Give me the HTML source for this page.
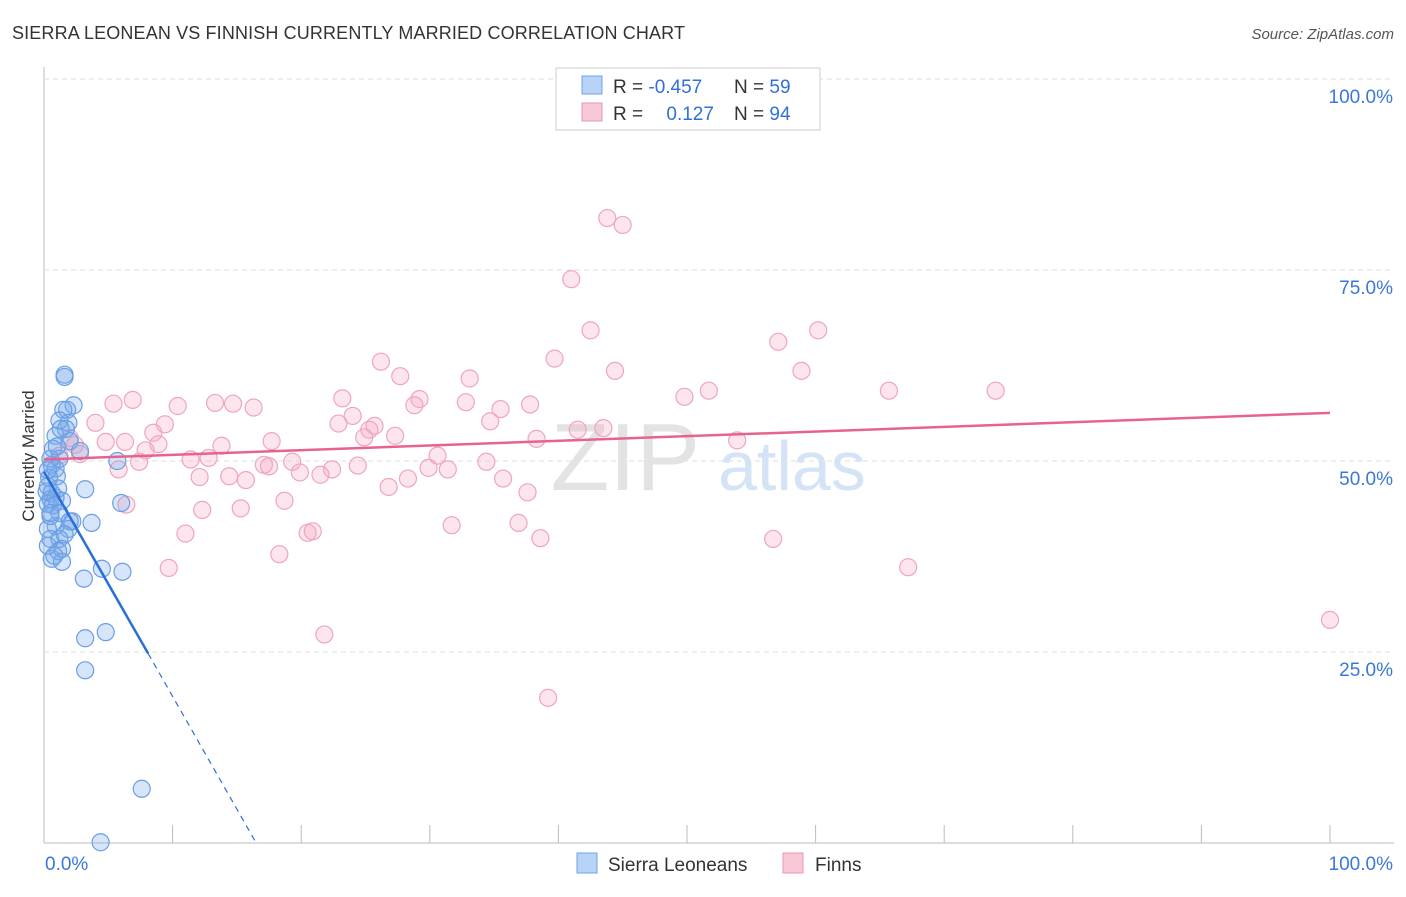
<!DOCTYPE html>
<html><head><meta charset="utf-8"><style>
body{margin:0;background:#fff;font-family:"Liberation Sans",sans-serif}
svg text{font-family:"Liberation Sans",sans-serif}
</style></head><body>
<svg id="chart" width="1406" height="892">
<text x="12" y="39" font-size="18" fill="#333" textLength="673">SIERRA LEONEAN VS FINNISH CURRENTLY MARRIED CORRELATION CHART</text>
<text x="1394" y="39" font-size="15" fill="#555" font-style="italic" text-anchor="end">Source: ZipAtlas.com</text>
<g id="grid"></g>
<text x="700" y="490" font-size="96" fill="#e3e3e3" text-anchor="end" font-family="Liberation Serif">ZIP</text>
<text x="718" y="490" font-size="70" fill="#d4e3f5">atlas</text>
<text x="34" y="456" font-size="17" fill="#333" text-anchor="middle" transform="rotate(-90 34 456)">Currently Married</text>
<g id="marks"></g>
<g>
<rect x="556" y="68" width="264" height="62" fill="#fff" stroke="#ccc"/>
<rect x="582" y="76" width="20" height="18" fill="#b7d3f5" stroke="#6fa3e8"/>
<rect x="582" y="103" width="20" height="18" fill="#f9c8d6" stroke="#ec97b2"/>
<text x="613" y="93" font-size="19" fill="#333">R = <tspan fill="#3070d8">-0.457</tspan></text>
<text x="734" y="93" font-size="19" fill="#333">N = <tspan fill="#3070d8">59</tspan></text>
<text x="613" y="120" font-size="19" fill="#333">R = <tspan fill="#3070d8" dx="18">0.127</tspan></text>
<text x="734" y="120" font-size="19" fill="#333">N = <tspan fill="#3070d8">94</tspan></text>
</g>
<g>
<rect x="577" y="853" width="20" height="20" fill="#b7d3f5" stroke="#6fa3e8"/>
<text x="608" y="871" font-size="19" fill="#333">Sierra Leoneans</text>
<rect x="783" y="853" width="20" height="20" fill="#f9c8d6" stroke="#ec97b2"/>
<text x="815" y="871" font-size="19" fill="#333">Finns</text>
</g>
</svg>
<script>
const blueX=[1.6,1.6,2.3,1.8,1.5,1.9,1.2,1.7,0.9,2.0,2.8,0.7,1.2,0.6,0.9,0.5,1.0,0.3,0.6,1.4,0.5,0.3,3.2,5.7,6.0,3.7,2.2,1.9,0.9,0.3,1.2,0.5,1.4,1.1,0.6,1.4,3.1,4.5,6.1,3.2,4.8,3.2,7.6,4.4,1.0,0.4,0.7,1.2,2.0,0.3,0.8,1.6,0.9,0.3,0.5,1.1,0.2,0.5,1.3];
const blueY=[61.3,61.0,57.3,56.7,56.7,55.0,55.3,54.2,53.3,52.6,51.3,51.6,50.3,49.5,49.0,50.3,48.0,46.7,45.8,44.8,45.0,44.4,46.3,50.0,44.5,41.9,42.1,41.1,41.5,41.1,39.8,39.8,38.5,38.2,37.2,36.8,34.6,35.9,35.5,26.8,27.6,22.6,7.1,0.1,51.9,47.8,44.2,43.2,42.1,38.9,37.6,40.4,45.2,48.8,42.8,46.4,46.0,43.2,54.2];
const pinkX=[43.8,45.0,41.0,42.5,60.2,57.1,39.7,26.2,27.7,44.4,58.9,33.1,65.7,74.0,51.7,49.8,23.2,29.2,28.8,13.3,6.9,5.4,10.4,14.7,16.3,32.8,37.8,35.5,24.0,34.7,4.0,9.4,22.9,25.7,25.3,8.5,24.9,27.3,17.7,13.8,4.8,2.0,6.3,43.5,41.5,38.3,53.9,8.9,7.9,2.4,2.8,30.6,11.4,12.8,7.4,19.3,34.4,17.1,17.5,24.4,29.9,31.4,22.4,19.9,21.5,5.8,12.1,14.4,15.7,35.7,28.3,26.8,37.6,18.7,12.3,15.3,6.4,31.7,36.9,11.0,20.5,20.9,38.6,56.7,18.3,9.7,67.2,100,21.8,39.2,1.2];
const pinkY=[81.8,80.9,73.8,67.1,67.1,65.6,63.4,63.0,61.1,61.8,61.8,60.8,59.2,59.2,59.2,58.4,58.2,58.1,57.3,57.6,58.0,57.5,57.2,57.5,57.0,57.7,57.4,56.8,55.9,55.2,55.0,54.8,54.9,54.6,54.1,53.7,53.1,53.3,52.6,52.0,52.5,53.0,52.5,54.3,54.1,52.9,52.7,52.2,51.4,52.1,50.9,50.7,50.2,50.4,49.9,49.9,49.9,49.5,49.3,49.4,49.1,48.9,48.9,48.5,48.2,48.9,47.9,48.0,47.5,47.7,47.7,46.6,45.9,44.8,43.6,43.8,44.3,41.6,41.9,40.5,40.6,40.8,39.9,39.8,37.8,36.0,36.1,29.2,27.3,19.0,50.7];
const xTicks=["0.0%","100.0%"];
const yTicks=[25,50,75,100];
const blueLine=[[0,48.6],[8.1,24.8],[16.5,0]];
const pinkLine=[[0,50.2],[100,56.3]];
const X0=44,X1=1330,Y0=843,Y1=79;
const sx=v=>X0+(X1-X0)*v/100, sy=v=>Y0-(Y0-Y1)*v/100;
const NS="http://www.w3.org/2000/svg";
function mk(t,a,p){const e=document.createElementNS(NS,t);for(const k in a)e.setAttribute(k,a[k]);p.appendChild(e);return e;}
const grid=document.getElementById('grid'),marks=document.getElementById('marks');
let ax=mk('line',{x1:X0,x2:X0,y1:67,y2:Y0,stroke:'#bbb'},grid);


let bx=mk('line',{x1:X0,x2:1394,y1:Y0,y2:Y0,stroke:'#bbb'},grid);


yTicks.forEach(v=>{
 let g=mk('line',{x1:X0,x2:1394,y1:sy(v),y2:sy(v),stroke:'#ddd','stroke-dasharray':'5,4'},grid);
 
 
 let t=mk('text',{x:1393,y:sy(v)+24,'font-size':19,fill:'#3a78d8','text-anchor':'end'},grid);t.textContent=v.toFixed(1)+'%';
 
 
});
for(let i=1;i<=10;i++){let t=mk('line',{x1:sx(i*10),x2:sx(i*10),y1:Y0-18,y2:Y0,stroke:'#bbb'},grid);
 
 }
xTicks.forEach((s,i)=>{let t=mk('text',{x:i?1393:45,y:870,'font-size':19,fill:'#3a78d8','text-anchor':i?'end':'start'},grid);t.textContent=s;
 
 });
pinkX.forEach((x,i)=>{let c=mk('circle',{cx:sx(x),cy:sy(pinkY[i]),r:8.5,fill:'rgba(246,170,194,0.3)',stroke:'#efa5bd','stroke-width':1.2},marks);
 
 });
blueX.forEach((x,i)=>{let c=mk('circle',{cx:sx(x),cy:sy(blueY[i]),r:8.5,fill:'rgba(120,170,235,0.3)',stroke:'#6a9ee4','stroke-width':1.2},marks);
 
 });
let pl=mk('line',{x1:sx(pinkLine[0][0]),y1:sy(pinkLine[0][1]),x2:sx(pinkLine[1][0]),y2:sy(pinkLine[1][1]),stroke:'#e8628e','stroke-width':2.5},marks);


let bl=mk('line',{x1:sx(blueLine[0][0]),y1:sy(blueLine[0][1]),x2:sx(blueLine[1][0]),y2:sy(blueLine[1][1]),stroke:'#2a6fd8','stroke-width':2.5},marks);


let bd=mk('line',{x1:sx(blueLine[1][0]),y1:sy(blueLine[1][1]),x2:sx(blueLine[2][0]),y2:sy(blueLine[2][1]),stroke:'#2a6fd8','stroke-width':1.2,'stroke-dasharray':'6,5'},marks);


</script>
</body></html>
